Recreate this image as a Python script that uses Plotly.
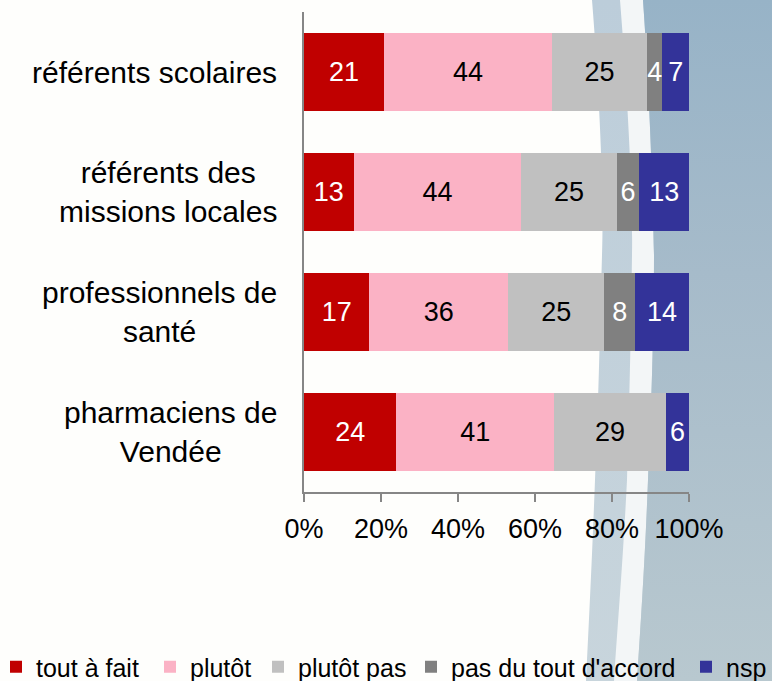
import base64
import plotly.graph_objects as go

# ---------------- data ----------------
categories = ["référents scolaires", "référents des missions locales",
              "professionnels de santé", "pharmaciens de Vendée"]
category_labels = ["référents scolaires", "référents des<br>missions locales",
                   "professionnels de<br>santé", "pharmaciens de<br>Vendée"]
series_names = ["tout à fait", "plutôt", "plutôt pas", "pas du tout d'accord", "nsp"]
tout_a_fait = [21, 13, 17, 24]
plutot = [44, 44, 36, 41]
plutot_pas = [25, 25, 25, 29]
pas_du_tout = [4, 6, 8, 0]
nsp = [7, 13, 14, 6]
x_ticks = [0, 20, 40, 60, 80, 100]
x_tick_labels = ["0%", "20%", "40%", "60%", "80%", "100%"]

series_values = [tout_a_fait, plutot, plutot_pas, pas_du_tout, nsp]
series_colors = ["#c00000", "#fbb2c5", "#c0c0c0", "#808080", "#333399"]
text_colors = ["white", "black", "black", "white", "white"]
legend_text_px = [36, 190, 298, 451, 726]   # pixel x where each legend label starts

W, H = 772, 681
L, R, T, B = 304, 83, 12, 189
PW, PH = W - L - R, H - T - B

ARIAL = "Liberation Sans, Arial, sans-serif"

fig = go.Figure()
legend_ids = ["legend", "legend2", "legend3", "legend4", "legend5"]
for name, vals, col, tcol, lid in zip(series_names, series_values, series_colors,
                                      text_colors, legend_ids):
    fig.add_trace(go.Bar(
        y=categories, x=vals, name=name, orientation="h", legend=lid,
        marker=dict(color=col, line=dict(width=0)),
        text=[str(v) if v else "" for v in vals],
        textposition="inside", insidetextanchor="middle", textangle=0,
        constraintext="none",
        textfont=dict(family=ARIAL, size=27, color=tcol),
        hoverinfo="skip",
    ))

# category labels (centred multi-line, right-anchored)
for cat, lab in zip(categories, category_labels):
    fig.add_annotation(x=(279 - L) / PW, xref="paper", y=cat, yref="y",
                       text=lab, showarrow=False, xanchor="right", yanchor="middle",
                       align="center", font=dict(family=ARIAL, size=30, color="black"))

# decorative background swoosh as an SVG image
svg = f'''<svg xmlns="http://www.w3.org/2000/svg" width="{W}" height="{H}" viewBox="0 0 {W} {H}" preserveAspectRatio="none">
<defs>
<linearGradient id="g" x1="0" y1="0" x2="0" y2="1"><stop offset="0" stop-color="#97b3c7"/><stop offset="0.4" stop-color="#a6bbca"/><stop offset="1" stop-color="#b8c8cf"/></linearGradient>
<linearGradient id="h" x1="0" y1="0" x2="0" y2="1"><stop offset="0" stop-color="#bccdda"/><stop offset="1" stop-color="#c8d5dc"/></linearGradient>
</defs>
<path d="M592,0 C600,100 604,200 602,255 C600,330 598,420 595,480 C592,560 589,620 586,681 L772,681 L772,0 Z" fill="url(#h)"/>
<path d="M620,0 C628,100 633,200 632,255 C631,330 629,420 627,480 C623,560 618,620 614,681 L637,681 C641,620 645,560 648,480 C651,420 654,330 654,255 C653,200 650,100 643,0 Z" fill="#f3f6f7"/>
<path d="M643,0 C650,100 653,200 654,255 C654,330 651,420 648,480 C645,560 641,620 637,681 L772,681 L772,0 Z" fill="url(#g)"/>
</svg>'''
src = "data:image/svg+xml;base64," + base64.b64encode(svg.encode("utf-8")).decode("ascii")
fig.add_layout_image(dict(source=src, xref="paper", yref="paper",
                          x=-L / PW, y=(PH + T) / PH, sizex=W / PW, sizey=H / PH,
                          xanchor="left", yanchor="top", sizing="stretch", layer="below"))

legend_y = (PH + T - 667) / PH
legend_layout = {}
for lid, tx in zip(legend_ids, legend_text_px):
    legend_layout[lid] = dict(orientation="h", x=(tx - 40 - L) / PW, xanchor="left",
                              y=legend_y, yanchor="middle", borderwidth=0,
                              font=dict(family=ARIAL, size=25, color="black"),
                              bgcolor="rgba(0,0,0,0)")

fig.update_layout(
    width=W, height=H,
    margin=dict(l=L, r=R, t=T, b=B, pad=0, autoexpand=False),
    barmode="stack", barnorm="percent", bargap=0.35,
    paper_bgcolor="#fefefc", plot_bgcolor="rgba(0,0,0,0)",
    showlegend=True,
    uniformtext=dict(minsize=27, mode="show"),
    xaxis=dict(range=[0, 100], tickvals=x_ticks, ticktext=x_tick_labels,
               showgrid=False, zeroline=False, showline=True,
               linecolor="#868686", linewidth=1.5, ticks="outside", ticklen=8,
               tickcolor="#868686", tickwidth=1.5, ticklabelstandoff=4,
               tickfont=dict(family=ARIAL, size=27, color="black")),
    yaxis=dict(autorange="reversed", showticklabels=False, showgrid=False,
               zeroline=False, showline=True, linecolor="#868686", linewidth=1.5,
               ticks=""),
    **legend_layout,
)

fig.write_html("out.html", config={"displayModeBar": False},
               post_script="document.body.style.margin='0';document.body.style.overflow='hidden';")
